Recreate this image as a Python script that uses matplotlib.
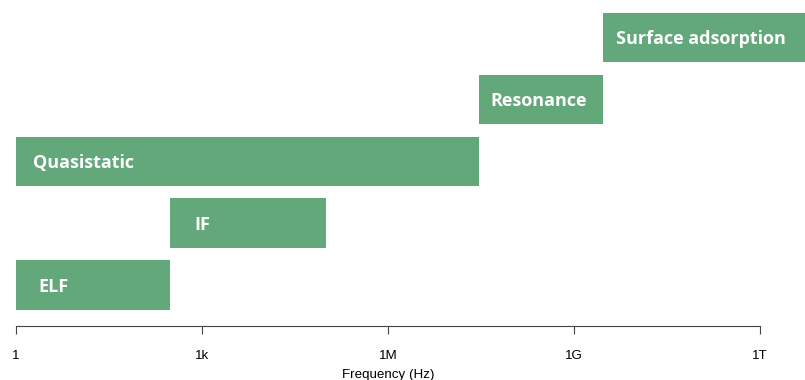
import numpy as np
import matplotlib
matplotlib.use('Agg')
import matplotlib.pyplot as plt

# frequency bands (Hz), bottom to top
bands = ['ELF', 'IF', 'Quasistatic', 'Resonance', 'Surface adsorption']
band_start = [1, 300, 1, 3e7, 3e9]
band_end = [300, 1e5, 3e7, 3e9, 1e13]

tick_values = [1, 1e3, 1e6, 1e9, 1e12]
tick_labels = ['1', '1k', '1M', '1G', '1T']

# text offset from bar start, in points
label_offset = [16, 18, 12, 8, 9]

bar_color = '#62a87b'

fig = plt.figure(figsize=(8.05, 3.8), dpi=100)
ax = fig.add_axes([16 / 805, 54 / 380, 1 - 16 / 805, 326 / 380])

ypos = np.arange(len(bands))
for i, name in enumerate(bands):
    ax.barh(ypos[i], band_end[i] - band_start[i], left=band_start[i],
            height=0.8, color=bar_color, edgecolor='none')
    ax.annotate(name, xy=(band_start[i], ypos[i]), xytext=(label_offset[i], -1.2),
                textcoords='offset points', va='center', ha='left',
                color='white', fontsize=13, fontweight='bold', family='Open Sans')

ax.set_xscale('log')
ax.set_xlim(1, 10 ** 12.73)
ax.set_ylim(-0.66, 4.605)

ax.set_xticks(tick_values)
ax.set_xticklabels(tick_labels, fontsize=9.6, family='Liberation Sans')
ax.xaxis.set_minor_locator(matplotlib.ticker.NullLocator())
ax.tick_params(axis='x', length=6, width=0.8, color='#444444', pad=11)
ax.set_yticks([])

for s in ['top', 'right', 'left']:
    ax.spines[s].set_visible(False)
ax.spines['bottom'].set_bounds(1, 1e12)
ax.spines['bottom'].set_color('#444444')
ax.spines['bottom'].set_linewidth(0.8)

fig.text(388 / 805, 1 - 375 / 380, 'Frequency (Hz)', ha='center', va='center',
         fontsize=9.6, family='Liberation Sans')

fig.savefig('out.png', dpi=100)
